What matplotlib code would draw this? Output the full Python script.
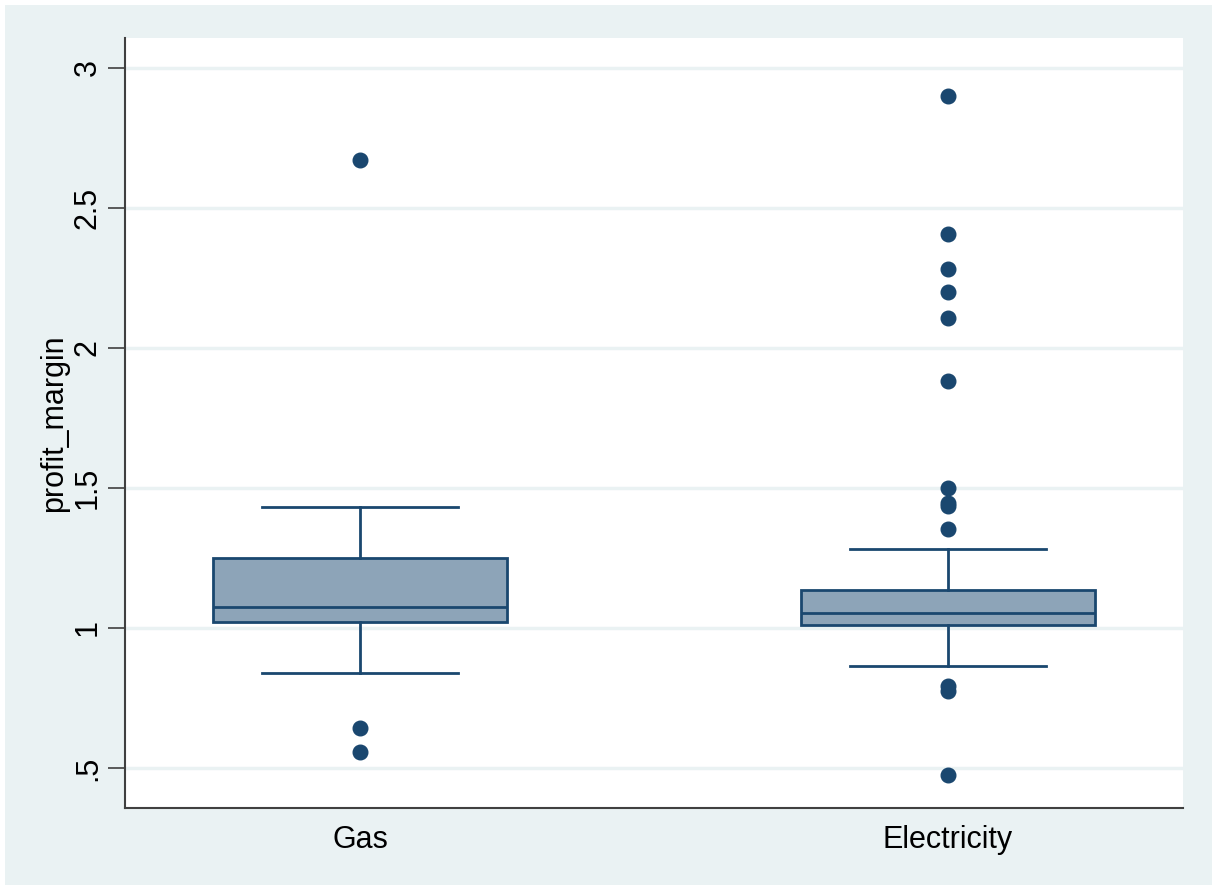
import matplotlib.pyplot as plt
from matplotlib.patches import Rectangle

plt.rcParams['font.family'] = ['Liberation Sans', 'DejaVu Sans']

# box summary
groups = ["Gas", "Electricity"]
q1 = [1.021, 1.011]
median = [1.075, 1.054]
q3 = [1.250, 1.136]
whislo = [0.839, 0.864]
whishi = [1.432, 1.282]
outliers_gas = [2.671, 0.643, 0.557]
outliers_elec = [2.900, 2.407, 2.282, 2.200, 2.107, 1.882, 1.500, 1.446,
                 1.436, 1.354, 0.793, 0.775, 0.475]
yticks = [0.5, 1, 1.5, 2, 2.5, 3]
ytick_labels = [".5", "1", "1.5", "2", "2.5", "3"]

navy = "#1A476F"
fill = "#8DA4B8"
bg = "#EAF2F3"

fig = plt.figure(figsize=(12.12, 8.85), dpi=100, facecolor="white")
fig.patches.append(Rectangle((5 / 1212, 0), 1, 1 - 5 / 885, transform=fig.transFigure,
                             facecolor=bg, edgecolor="none", zorder=-10))
ax = fig.add_axes([125 / 1212, 1 - 808 / 885, (1183 - 125) / 1212, (808 - 38) / 885])
ax.set_facecolor("white")

stats = []
for i, name in enumerate(groups):
    stats.append({
        "label": name, "med": median[i], "q1": q1[i], "q3": q3[i],
        "whislo": whislo[i], "whishi": whishi[i],
        "fliers": [outliers_gas, outliers_elec][i],
    })

ax.bxp(stats, positions=[1, 2], widths=0.5, patch_artist=True, capwidths=0.333,
       boxprops=dict(facecolor=fill, edgecolor=navy, linewidth=2.0),
       medianprops=dict(color=navy, linewidth=2.0),
       whiskerprops=dict(color=navy, linewidth=2.0),
       capprops=dict(color=navy, linewidth=2.0),
       flierprops=dict(marker="o", markerfacecolor=navy, markeredgecolor=navy,
                       markersize=10.5))

ax.set_xlim(0.6, 2.4)
ax.set_ylim(0.357, 3.107)
ax.set_yticks(yticks)
ax.set_yticklabels(ytick_labels, rotation=90, va="center", fontsize=22)
ax.tick_params(axis="y", length=12, width=1.2, color="#404040", pad=4)
ax.tick_params(axis="x", length=0, labelsize=22, pad=12)
ax.set_ylabel("profit_margin", fontsize=22, va="center")
ax.yaxis.set_label_coords(-0.067, 0.5)

ax.yaxis.grid(True, color=bg, linewidth=2.5)
ax.set_axisbelow(True)
for side in ["top", "right"]:
    ax.spines[side].set_visible(False)
for side in ["left", "bottom"]:
    ax.spines[side].set_color("#404040")
    ax.spines[side].set_linewidth(1.5)

fig.savefig("out.png", dpi=100, facecolor=fig.get_facecolor())
